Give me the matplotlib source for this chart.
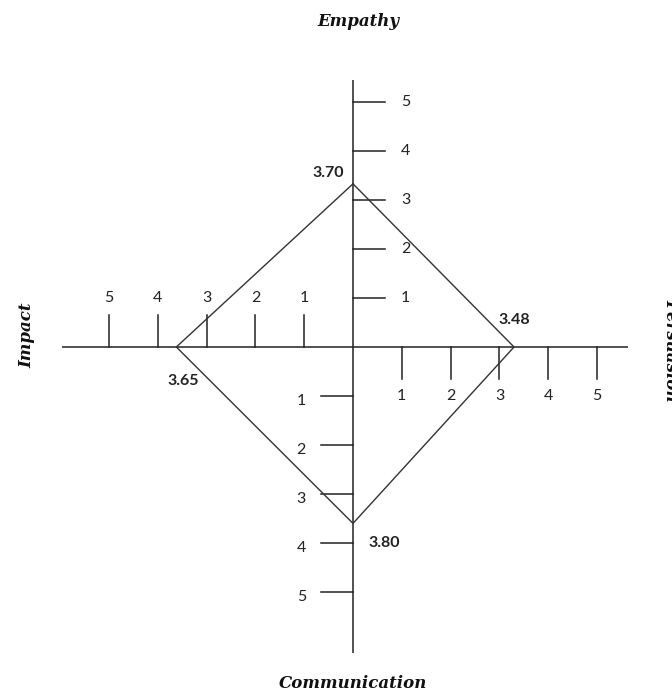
import matplotlib.pyplot as plt

# axis names, clockwise from top
axis_names = ["Empathy", "Persuasion", "Communication", "Impact"]
tick_values = [1, 2, 3, 4, 5]

# label printed at each diamond corner, and where the corner sits on the drawn scale
corner_labels = ["3.70", "3.48", "3.80", "3.65"]
corner_pos = [3.33, 3.30, 3.60, 3.62]

SX, SY = 48.8, 49.0          # px per unit
CX, CY = 353, 347            # centre in px (from left / top)
W, H = 672, 694

fig = plt.figure(figsize=(W / 100, H / 100), dpi=100)
ax = fig.add_axes([0, 0, 1, 1])
ax.set_xlim(-CX / SX, (W - CX) / SX)
ax.set_ylim(-(H - CY) / SY, CY / SY)
ax.axis("off")

lc = "#222222"
lw = 1.1
tl = 0.66  # tick length
lab = dict(family="Lato", fontsize=11.5, color="#222222")

# main axes
ax.plot([-5.97, 5.63], [0, 0], color=lc, lw=lw, solid_capstyle="butt")
ax.plot([0, 0], [-6.24, 5.45], color=lc, lw=lw, solid_capstyle="butt")

for v in tick_values:
    # top: ticks to the right, labels right of them
    ax.plot([0, tl], [v, v], color=lc, lw=lw)
    ax.text(tl + 0.42, v, str(v), ha="center", va="center", **lab)
    # right: ticks down, labels below
    ax.plot([v, v], [0, -tl], color=lc, lw=lw)
    ax.text(v, -tl - 0.35, str(v), ha="center", va="center", **lab)
    # bottom: ticks to the left, labels left of them
    ax.plot([-tl, 0], [-v, -v], color=lc, lw=lw)
    ax.text(-tl - 0.4, -v - 0.1, str(v), ha="center", va="center", **lab)
    # left: ticks up, labels above
    ax.plot([-v, -v], [0, tl], color=lc, lw=lw)
    ax.text(-v, tl + 0.35, str(v), ha="center", va="center", **lab)

# diamond
top, right, bottom, left = corner_pos
xs = [0, right, 0, -left, 0]
ys = [top, 0, -bottom, 0, top]
ax.plot(xs, ys, color="#333333", lw=1.0)

blab = dict(family="Lato", fontsize=11.5, fontweight="bold", color="#222222")
ax.text(-0.5, top + 0.22, corner_labels[0], ha="center", va="center", **blab)
ax.text(right, 0.55, corner_labels[1], ha="center", va="center", **blab)
ax.text(0.65, -bottom - 0.4, corner_labels[2], ha="center", va="center", **blab)
ax.text(-left + 0.15, -0.7, corner_labels[3], ha="center", va="center", **blab)

# axis titles
tt = dict(family="DejaVu Serif", fontsize=12, fontweight="bold",
          fontstyle="italic", color="#111111")
fig.text(358 / W, 1 - 22 / H, axis_names[0], ha="center", va="center", **tt)
fig.text(662 / W, 1 - 350 / H, axis_names[1], ha="left", va="center",
         rotation=-90, **tt)
fig.text(353 / W, 1 - 683 / H, axis_names[2], ha="center", va="center", **tt)
fig.text(27 / W, 1 - 335 / H, axis_names[3], ha="center", va="center",
         rotation=90, **tt)

fig.savefig("out.png", dpi=100, facecolor="white")
